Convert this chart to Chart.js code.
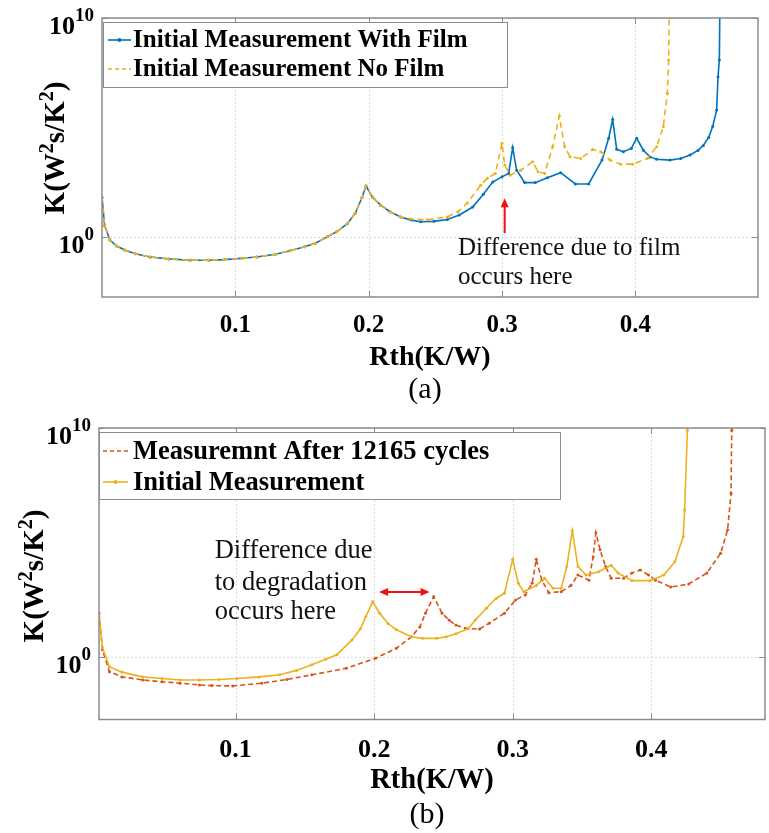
<!DOCTYPE html>
<html>
<head>
<meta charset="utf-8">
<script src="https://cdn.jsdelivr.net/npm/chart.js@4/dist/chart.umd.min.js"></script>
<style>
  html, body { margin: 0; padding: 0; background: #fff; }
  #wrapA { position: absolute; left: 0; top: 0; width: 769px; height: 412px; }
  #wrapB { position: absolute; left: 0; top: 412px; width: 769px; height: 421px; }
</style>
</head>
<body>
<div id="wrapA"><canvas id="chartA"></canvas></div>
<div id="wrapB"><canvas id="chartB"></canvas></div>
<script>
// ---- Structure function K(Rth), panel (a): initial measurements with / without film ----
const rthWithFilm = [0.000, 0.002, 0.006, 0.011, 0.017, 0.025, 0.036, 0.050, 0.066, 0.080, 0.092, 0.105, 0.116, 0.130, 0.141, 0.152, 0.160, 0.169, 0.176, 0.184, 0.190, 0.195, 0.198, 0.203, 0.209, 0.216, 0.224, 0.232, 0.239, 0.249, 0.259, 0.268, 0.278, 0.286, 0.293, 0.300, 0.305, 0.308, 0.311, 0.317, 0.325, 0.334, 0.344, 0.355, 0.365, 0.375, 0.380, 0.383, 0.386, 0.391, 0.397, 0.401, 0.406, 0.411, 0.416, 0.426, 0.434, 0.441, 0.447, 0.451, 0.455, 0.458, 0.461, 0.462, 0.463, 0.4635];
const kWithFilm   = [63, 3.2, 0.71, 0.38, 0.25, 0.17, 0.12, 0.098, 0.085, 0.085, 0.091, 0.105, 0.12, 0.16, 0.23, 0.35, 0.51, 1.0, 1.7, 4.0, 12, 63, 210, 63, 28, 14, 8.1, 5.8, 4.9, 5.1, 6.2, 10, 23, 89, 320, 550, 790, 1.2e4, 1.1e3, 300, 300, 500, 850, 260, 260, 3.2e3, 3.2e4, 2.3e5, 1.0e4, 7.8e3, 1.1e4, 3.2e4, 9.1e3, 4.5e3, 3.5e3, 3.2e3, 3.8e3, 5.5e3, 8.9e3, 1.5e4, 3.5e4, 1.1e5, 6.2e5, 2.0e7, 1.2e8, 1e11];

const rthNoFilm = [0.000, 0.002, 0.006, 0.011, 0.017, 0.025, 0.036, 0.050, 0.066, 0.080, 0.092, 0.105, 0.116, 0.130, 0.141, 0.152, 0.160, 0.169, 0.176, 0.184, 0.190, 0.195, 0.198, 0.203, 0.209, 0.216, 0.224, 0.232, 0.244, 0.259, 0.267, 0.274, 0.284, 0.289, 0.295, 0.300, 0.302, 0.306, 0.314, 0.323, 0.327, 0.332, 0.338, 0.343, 0.347, 0.351, 0.359, 0.368, 0.374, 0.381, 0.389, 0.398, 0.409, 0.416, 0.421, 0.424, 0.425, 0.4255];
const kNoFilm   = [63, 3.2, 0.71, 0.38, 0.25, 0.17, 0.12, 0.098, 0.085, 0.085, 0.091, 0.105, 0.12, 0.16, 0.23, 0.35, 0.51, 1.0, 1.7, 4.0, 12, 63, 210, 63, 28, 14, 8.1, 6.6, 6.0, 8.1, 14, 35, 230, 470, 790, 1.9e4, 1.9e3, 660, 1.1e3, 2.7e3, 930, 790, 1.3e4, 3.3e5, 1.3e4, 4.6e3, 3.8e3, 9.8e3, 7.8e3, 3.2e3, 2.1e3, 2.1e3, 3.8e3, 1.3e4, 1.1e5, 3.6e6, 1.2e8, 1e11];

// ---- Panel (b): after 12165 power cycles vs. initial ----
const rthAfterCycles = [0.0015, 0.004, 0.009, 0.018, 0.033, 0.047, 0.060, 0.074, 0.083, 0.098, 0.119, 0.137, 0.155, 0.180, 0.201, 0.216, 0.227, 0.233, 0.237, 0.243, 0.249, 0.254, 0.259, 0.266, 0.276, 0.283, 0.294, 0.302, 0.309, 0.314, 0.317, 0.321, 0.326, 0.335, 0.342, 0.347, 0.355, 0.358, 0.360, 0.363, 0.367, 0.371, 0.380, 0.386, 0.392, 0.398, 0.403, 0.414, 0.427, 0.440, 0.450, 0.455, 0.4575, 0.458, 0.4585];
const kAfterCycles   = [79, 2.0, 0.22, 0.13, 0.095, 0.079, 0.069, 0.058, 0.054, 0.052, 0.069, 0.10, 0.16, 0.31, 0.85, 2.3, 7.4, 20, 79, 420, 79, 40, 24, 17, 16, 29, 79, 300, 500, 1.6e3, 1.8e4, 2.2e3, 630, 690, 1.3e3, 3.7e3, 2.2e3, 2.3e4, 2.6e5, 4.7e4, 8.7e3, 2.7e3, 2.7e3, 4.5e3, 6.2e3, 3.7e3, 2.2e3, 1.1e3, 1.5e3, 4.5e3, 3.3e4, 3.5e5, 1.4e7, 7.9e9, 1e11];

const rthInitial = [0.0015, 0.004, 0.009, 0.018, 0.033, 0.047, 0.060, 0.074, 0.088, 0.101, 0.117, 0.132, 0.144, 0.155, 0.165, 0.173, 0.184, 0.190, 0.194, 0.199, 0.204, 0.210, 0.216, 0.227, 0.235, 0.245, 0.252, 0.259, 0.268, 0.273, 0.281, 0.288, 0.294, 0.300, 0.304, 0.308, 0.317, 0.323, 0.329, 0.335, 0.339, 0.343, 0.347, 0.353, 0.362, 0.371, 0.376, 0.386, 0.399, 0.409, 0.417, 0.423, 0.424, 0.426, 0.4265];
const kInitial   = [79, 2.5, 0.36, 0.21, 0.13, 0.11, 0.095, 0.095, 0.10, 0.11, 0.13, 0.16, 0.25, 0.44, 0.76, 1.2, 5.4, 16, 56, 250, 79, 28, 15, 7.4, 6.3, 6.3, 7.4, 10, 17, 40, 130, 350, 590, 1.8e4, 1.6e3, 690, 1.3e3, 2.7e3, 980, 980, 8.7e3, 3.2e5, 8.7e3, 3.7e3, 5.2e3, 1.0e4, 4.5e3, 2.1e3, 2.1e3, 3.7e3, 1.4e4, 1.8e5, 2.6e6, 7.9e9, 1e11];

// ---- Axis ticks ----
const rthTicks = [0.1, 0.2, 0.3, 0.4];
const rthTickLabels = ['0.1', '0.2', '0.3', '0.4'];
const kTickExponents = [0, 10];
const kMinExponent = -2.75;

const legendA = ['Initial Measurement With Film', 'Initial Measurement No Film'];
const legendB = ['Measuremnt After 12165 cycles', 'Initial Measurement'];

const SERIF = '"Liberation Serif", "Times New Roman", Times, serif';
const fnt = (size, bold) => (bold ? 'bold ' : '') + size + 'px ' + SERIF;

const BLUE = '#0072BD', ORANGE = '#EDB120', RED = '#D95319', ARROW = '#f01010';

function pairs(xs, ys) { return xs.map((x, i) => ({ x: x, y: ys[i] })); }

// draws a run of text pieces on one baseline; pieces may be raised (superscripts)
function drawRich(ctx, parts, x, y, align) {
  let w = 0;
  parts.forEach(p => { ctx.font = p.font; p.w = ctx.measureText(p.t).width; w += p.w; });
  let cx = align === 'right' ? x - w : (align === 'center' ? x - w / 2 : x);
  ctx.textAlign = 'left';
  ctx.textBaseline = 'alphabetic';
  parts.forEach(p => { ctx.font = p.font; ctx.fillText(p.t, cx, y + (p.dy || 0)); cx += p.w; });
}

function drawArrowHead(ctx, x, y, angle, len, half) {
  ctx.save();
  ctx.translate(x, y);
  ctx.rotate(angle);
  ctx.beginPath();
  ctx.moveTo(0, 0);
  ctx.lineTo(-len, -half);
  ctx.lineTo(-len, half);
  ctx.closePath();
  ctx.fill();
  ctx.restore();
}

// MATLAB-style axes decoration: dotted grid, boxed frame with inward ticks,
// superscript log tick labels, rotated y title, legend box, notes and caption.
const matlabAxes = {
  id: 'matlabAxes',
  beforeDatasetsDraw(chart, args, o) {
    const { ctx, chartArea: a } = chart;
    const xs = chart.scales.x, ys = chart.scales.y;
    ctx.save();
    ctx.strokeStyle = '#d9d9d9';
    ctx.lineWidth = 1;
    ctx.setLineDash([2, 2]);
    rthTicks.forEach(v => {
      const px = Math.round(xs.getPixelForValue(v)) + 0.5;
      ctx.beginPath(); ctx.moveTo(px, a.top); ctx.lineTo(px, a.bottom); ctx.stroke();
    });
    kTickExponents.forEach(e => {
      const py = Math.round(ys.getPixelForValue(Math.pow(10, e))) + 0.5;
      ctx.beginPath(); ctx.moveTo(a.left, py); ctx.lineTo(a.right, py); ctx.stroke();
    });
    ctx.restore();
  },
  afterDatasetsDraw(chart, args, o) {
    const { ctx, chartArea: a } = chart;
    const xs = chart.scales.x, ys = chart.scales.y;
    ctx.save();
    // frame
    ctx.strokeStyle = '#8c8c8c';
    ctx.lineWidth = 1.5;
    ctx.setLineDash([]);
    ctx.strokeRect(a.left, a.top, a.right - a.left, a.bottom - a.top);
    // inward ticks
    ctx.lineWidth = 1;
    const tl = 6;
    rthTicks.forEach(v => {
      const px = Math.round(xs.getPixelForValue(v)) + 0.5;
      ctx.beginPath();
      ctx.moveTo(px, a.bottom); ctx.lineTo(px, a.bottom - tl);
      ctx.moveTo(px, a.top); ctx.lineTo(px, a.top + tl);
      ctx.stroke();
    });
    kTickExponents.forEach(e => {
      const py = Math.round(ys.getPixelForValue(Math.pow(10, e))) + 0.5;
      ctx.beginPath();
      ctx.moveTo(a.left, py); ctx.lineTo(a.left + tl, py);
      ctx.moveTo(a.right, py); ctx.lineTo(a.right - tl, py);
      ctx.stroke();
    });

    // legend
    const L = o.legend;
    ctx.fillStyle = '#fff';
    ctx.fillRect(L.x, L.y, L.w, L.h);
    ctx.strokeStyle = '#8c8c8c';
    ctx.lineWidth = 1;
    ctx.strokeRect(L.x + 0.5, L.y + 0.5, L.w, L.h);
    L.items.forEach((it, i) => {
      const y = L.y + L.rows[i];
      ctx.strokeStyle = it.color;
      ctx.lineWidth = 1.6;
      ctx.setLineDash(it.dash);
      ctx.beginPath(); ctx.moveTo(L.x + L.sx0, y); ctx.lineTo(L.x + L.sx1, y); ctx.stroke();
      ctx.setLineDash([]);
      if (it.dot) {
        ctx.fillStyle = it.color;
        ctx.beginPath(); ctx.arc(L.x + (L.sx0 + L.sx1) / 2, y, 2, 0, Math.PI * 2); ctx.fill();
      }
      ctx.fillStyle = '#000';
      ctx.font = fnt(L.size, true);
      ctx.textAlign = 'left';
      ctx.textBaseline = 'middle';
      ctx.fillText(it.text, L.x + L.tx, y + 1);
    });

    // notes
    const N = o.note;
    ctx.fillStyle = '#111';
    ctx.font = fnt(N.size, false);
    ctx.textAlign = 'left';
    ctx.textBaseline = 'middle';
    N.lines.forEach((t, i) => {
      ctx.fillText(t, xs.getPixelForValue(N.x), ys.getPixelForValue(Math.pow(10, N.yExp[i])));
    });

    // arrow
    const A = o.arrow;
    const x0 = xs.getPixelForValue(A.x0), x1 = xs.getPixelForValue(A.x1);
    const y0 = ys.getPixelForValue(Math.pow(10, A.e0)), y1 = ys.getPixelForValue(Math.pow(10, A.e1));
    ctx.strokeStyle = ARROW;
    ctx.fillStyle = ARROW;
    ctx.lineWidth = 2;
    const ang = Math.atan2(y1 - y0, x1 - x0);
    const hl = 9;
    ctx.beginPath();
    ctx.moveTo(x0 + (A.both ? Math.cos(ang) * hl * 0.8 : 0), y0 + (A.both ? Math.sin(ang) * hl * 0.8 : 0));
    ctx.lineTo(x1 - Math.cos(ang) * hl * 0.8, y1 - Math.sin(ang) * hl * 0.8);
    ctx.stroke();
    drawArrowHead(ctx, x1, y1, ang, hl, 4);
    if (A.both) drawArrowHead(ctx, x0, y0, ang + Math.PI, hl, 4);
    ctx.restore();
  },
  afterDraw(chart, args, o) {
    const { ctx, chartArea: a } = chart;
    const ys = chart.scales.y;
    ctx.save();
    ctx.fillStyle = '#000';
    // log tick labels 10^n
    kTickExponents.forEach(e => {
      const py = ys.getPixelForValue(Math.pow(10, e));
      drawRich(ctx, [
        { t: '10', font: fnt(o.tickSize, true), dy: 16 },
        { t: String(e), font: fnt(o.supSize, true), dy: 3 }
      ], a.left - o.tickGap, py, 'right');
    });
    // y title, rotated
    const T = o.yTitle;
    ctx.save();
    ctx.translate(T.x, T.y);
    ctx.rotate(-Math.PI / 2);
    const main = fnt(T.size, true), sup = fnt(T.sup, true);
    drawRich(ctx, [
      { t: 'K(W', font: main }, { t: '2', font: sup, dy: -T.raise },
      { t: 's/K', font: main }, { t: '2', font: sup, dy: -T.raise },
      { t: ')', font: main }
    ], 0, 0, 'center');
    ctx.restore();
    // panel caption
    ctx.font = fnt(o.caption.size, false);
    ctx.textAlign = 'center';
    ctx.textBaseline = 'middle';
    ctx.fillText(o.caption.text, o.caption.x, o.caption.y);
    ctx.restore();
  }
};

function lineDataset(label, xs, ys, color, dash, order) {
  return {
    label: label,
    data: pairs(xs, ys),
    borderColor: color,
    backgroundColor: color,
    borderWidth: 1.6,
    borderDash: dash,
    pointRadius: 1.5,
    pointBorderWidth: 0,
    pointBackgroundColor: color,
    tension: 0,
    fill: false,
    order: order
  };
}

function makeChart(id, c) {
  return new Chart(document.getElementById(id), {
    type: 'line',
    data: { datasets: c.datasets },
    options: {
      responsive: true,
      maintainAspectRatio: false,
      animation: false,
      devicePixelRatio: 1,
      layout: { padding: { top: c.padTop, right: c.padRight, left: 0, bottom: 0 } },
      plugins: { legend: { display: false }, tooltip: { enabled: false }, matlabAxes: c.deco },
      scales: {
        x: {
          type: 'linear',
          min: c.xMin,
          max: c.xMax,
          afterBuildTicks: s => { s.ticks = rthTicks.map(v => ({ value: v })); },
          afterFit: s => { s.height = c.xAxisHeight; },
          grid: { display: false },
          border: { display: false },
          ticks: {
            autoSkip: false,
            maxRotation: 0,
            padding: c.tickPad,
            color: '#000',
            font: { family: SERIF, size: c.tickSize, weight: 'bold' },
            callback: (v, i) => rthTickLabels[i]
          },
          title: {
            display: true,
            text: 'Rth(K/W)',
            color: '#000',
            font: { family: SERIF, size: c.titleSize, weight: 'bold' },
            padding: { top: 0, bottom: c.titlePad }
          }
        },
        y: {
          type: 'logarithmic',
          min: Math.pow(10, kMinExponent),
          max: Math.pow(10, kTickExponents[kTickExponents.length - 1]),
          afterBuildTicks: s => { s.ticks = kTickExponents.map(e => ({ value: Math.pow(10, e) })); },
          afterFit: s => { s.width = c.yAxisWidth; },
          grid: { display: false },
          border: { display: false },
          ticks: { display: false }
        }
      }
    },
    plugins: [matlabAxes]
  });
}

makeChart('chartA', {
  datasets: [
    lineDataset(legendA[0], rthWithFilm, kWithFilm, BLUE, [], 1),
    lineDataset(legendA[1], rthNoFilm, kNoFilm, ORANGE, [6, 4], 0)
  ],
  padTop: 18, padRight: 11, yAxisWidth: 102, xAxisHeight: 115,
  xMin: 0, xMax: 0.492,
  tickSize: 25, tickPad: 6, titleSize: 28, titlePad: 37,
  deco: {
    tickSize: 26, supSize: 19, tickGap: 8,
    yTitle: { x: 64, y: 148, size: 29, sup: 20, raise: 11 },
    legend: {
      x: 103, y: 22, w: 404, h: 65, rows: [18, 47], sx0: 5, sx1: 28, tx: 30, size: 25,
      items: [
        { text: legendA[0], color: BLUE, dash: [], dot: true },
        { text: legendA[1], color: ORANGE, dash: [4, 3], dot: false }
      ]
    },
    note: { x: 0.267, size: 25, lines: ['Difference due to film', 'occurs here'], yExp: [-0.535, -1.84] },
    arrow: { x0: 0.302, x1: 0.302, e0: 0.17, e1: 1.76, both: false },
    caption: { text: '(a)', x: 425, y: 390, size: 30 }
  }
});

makeChart('chartB', {
  datasets: [
    lineDataset(legendB[0], rthAfterCycles, kAfterCycles, RED, [5, 3], 1),
    lineDataset(legendB[1], rthInitial, kInitial, ORANGE, [], 0)
  ],
  padTop: 16, padRight: 2, yAxisWidth: 99, xAxisHeight: 113.5,
  xMin: 0.0015, xMax: 0.482,
  tickSize: 26, tickPad: 7, titleSize: 28.5, titlePad: 35,
  deco: {
    tickSize: 26, supSize: 19, tickGap: 8,
    yTitle: { x: 43, y: 164, size: 29, sup: 20, raise: 11 },
    legend: {
      x: 99, y: 20, w: 461, h: 67, rows: [19, 50], sx0: 4, sx1: 29, tx: 34, size: 26.5,
      items: [
        { text: legendB[0], color: RED, dash: [4, 3], dot: false },
        { text: legendB[1], color: ORANGE, dash: [], dot: true }
      ]
    },
    note: { x: 0.085, size: 26.5, lines: ['Difference due', 'to degradation', 'occurs here'], yExp: [4.62, 3.22, 1.95] },
    arrow: { x0: 0.2036, x1: 0.240, e0: 2.83, e1: 2.83, both: true },
    caption: { text: '(b)', x: 427, y: 403, size: 30 }
  }
});
</script>
</body>
</html>
